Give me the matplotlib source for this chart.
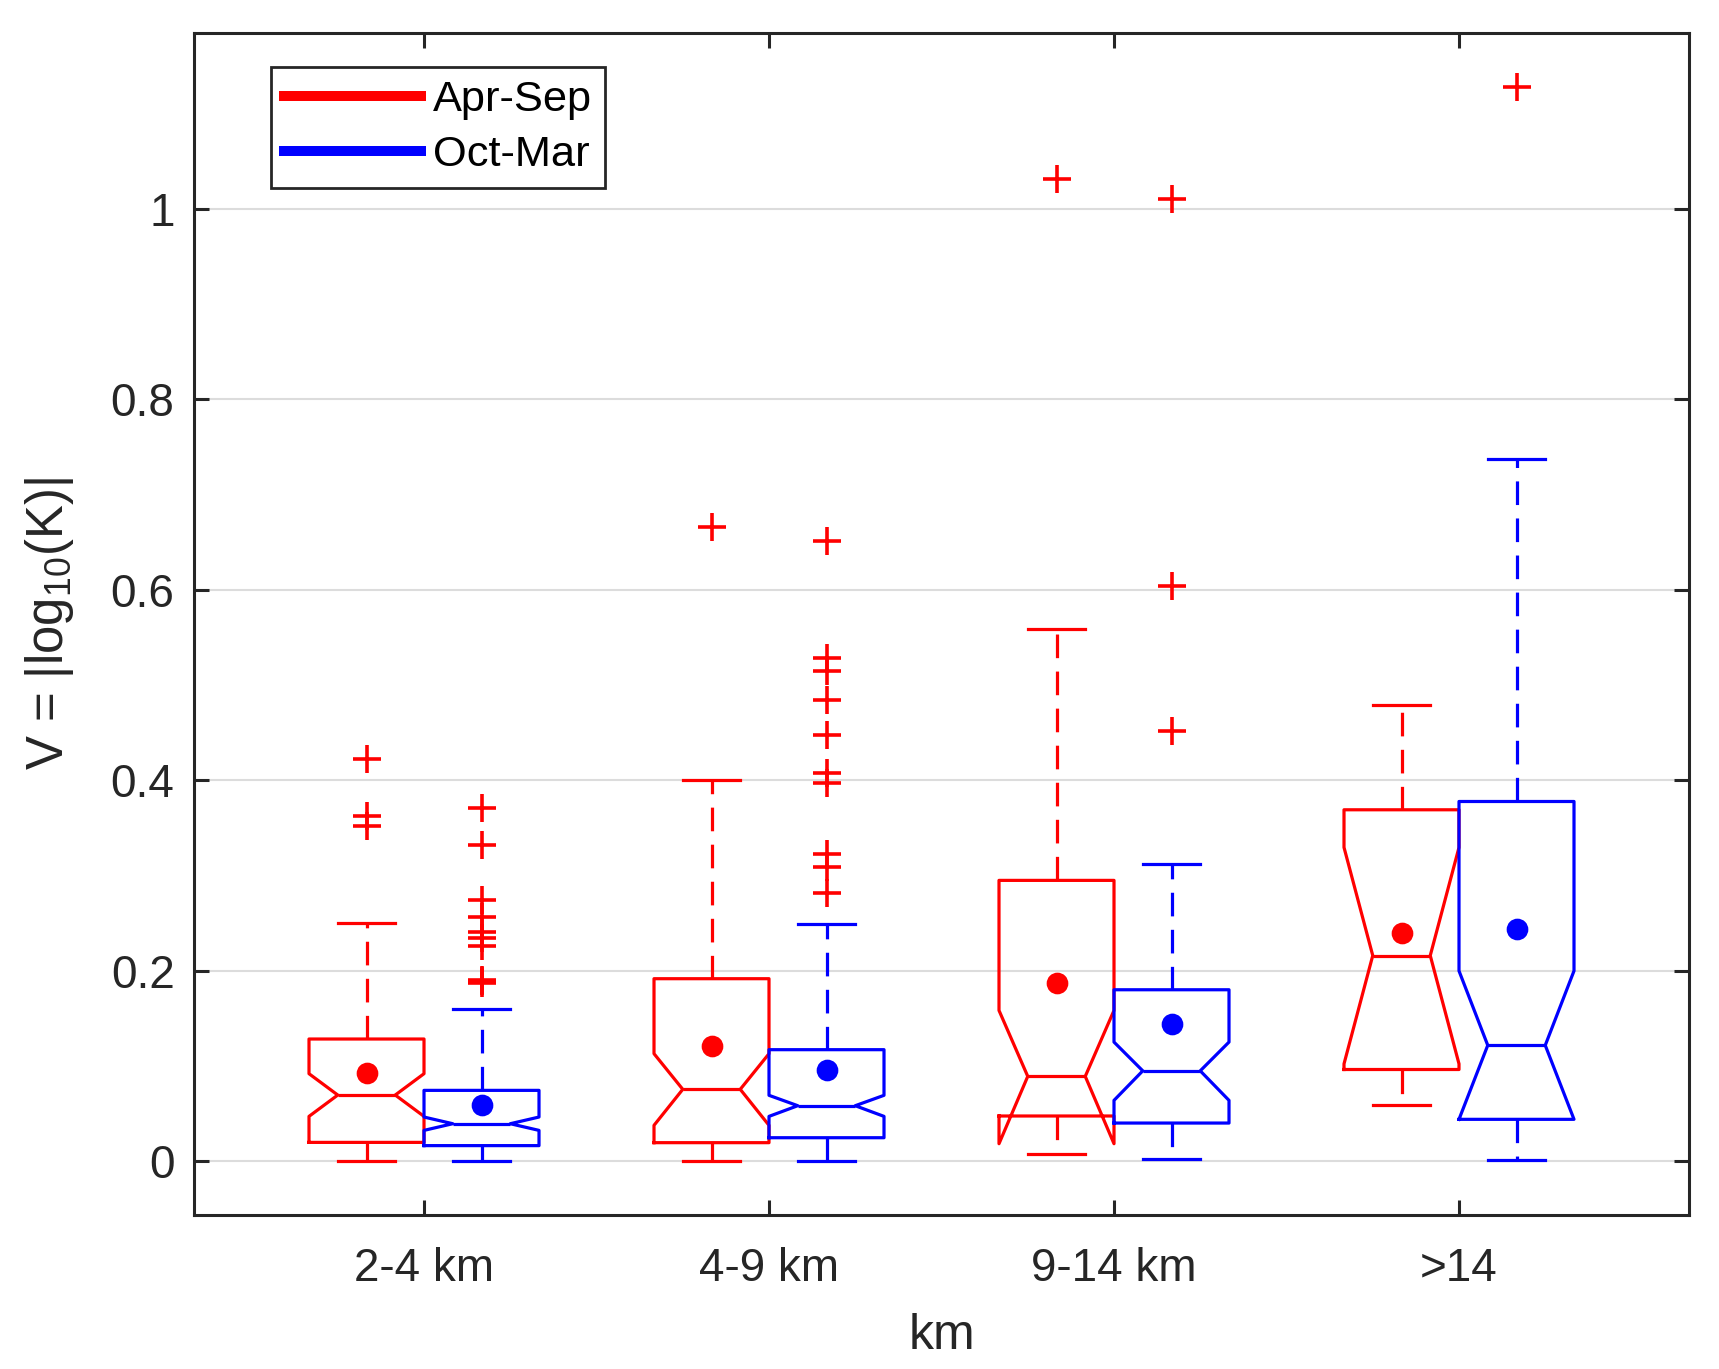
import matplotlib
matplotlib.use('Agg')
import matplotlib.pyplot as plt
from matplotlib.lines import Line2D

plt.rcParams['font.family'] = ['Liberation Sans', 'DejaVu Sans']
plt.rcParams['mathtext.fontset'] = 'custom'
plt.rcParams['mathtext.rm'] = 'Liberation Sans'
plt.rcParams['mathtext.it'] = 'Liberation Sans:italic'

# ---------------- data ----------------
categories = ['2-4 km', '4-9 km', '9-14 km', '>14']
seasons = ['Apr-Sep', 'Oct-Mar']
season_colors = ['#ff0000', '#0000ff']
outlier_color = '#ff0000'

yticks = [0, 0.2, 0.4, 0.6, 0.8, 1.0]
ytick_labels = ['0', '0.2', '0.4', '0.6', '0.8', '1']

# Apr-Sep (red)
apr_whislo = [0.0, 0.0007, 0.0081, 0.0588]
apr_q1 = [0.0199, 0.0196, 0.0476, 0.0964]
apr_cilo = [0.0472, 0.0378, 0.0185, 0.1023]
apr_med = [0.0696, 0.0756, 0.0892, 0.2160]
apr_cihi = [0.0920, 0.1130, 0.1584, 0.3295]
apr_q3 = [0.1284, 0.1917, 0.2949, 0.3690]
apr_whishi = [0.2505, 0.4005, 0.5586, 0.4790]
apr_mean = [0.0927, 0.1207, 0.1871, 0.2396]
apr_fliers = [[0.4222, 0.3627, 0.3515],
              [0.6663],
              [1.0309],
              []]

# Oct-Mar (blue)
oct_whislo = [0.0, 0.0, 0.0028, 0.0010]
oct_q1 = [0.0165, 0.0248, 0.0402, 0.0441]
oct_cilo = [0.0325, 0.0472, 0.0640, 0.0441]
oct_med = [0.0395, 0.0584, 0.0950, 0.1218]
oct_cihi = [0.0465, 0.0693, 0.1252, 0.1999]
oct_q3 = [0.0745, 0.1172, 0.1801, 0.3777]
oct_whishi = [0.1602, 0.2488, 0.3124, 0.7370]
oct_mean = [0.0588, 0.0955, 0.1446, 0.2440]
oct_fliers = [[0.3711, 0.3323, 0.2746, 0.2568, 0.2406, 0.2340, 0.2263, 0.1905, 0.1890, 0.1875],
              [0.6510, 0.5280, 0.5144, 0.4840, 0.4476, 0.4073, 0.3968, 0.3223, 0.3087, 0.2814],
              [1.0099, 0.6037, 0.4516],
              [1.1281]]


def build_stats(whislo, q1, cilo, med, cihi, q3, whishi, mean, fliers):
    out = []
    for i in range(len(med)):
        out.append(dict(whislo=whislo[i], q1=q1[i], cilo=cilo[i], med=med[i],
                        cihi=cihi[i], q3=q3[i], whishi=whishi[i], mean=mean[i],
                        fliers=fliers[i]))
    return out


season_stats = [
    build_stats(apr_whislo, apr_q1, apr_cilo, apr_med, apr_cihi, apr_q3, apr_whishi, apr_mean, apr_fliers),
    build_stats(oct_whislo, oct_q1, oct_cilo, oct_med, oct_cihi, oct_q3, oct_whishi, oct_mean, oct_fliers),
]

# ---------------- figure ----------------
fig = plt.figure(figsize=(17.19 / 2, 13.69 / 2), dpi=200)
ax = fig.add_axes([0.11286, 0.11271, 0.86969, 0.86297])

box_w = 1 / 3
offsets = [-1 / 6, 1 / 6]
base = list(range(1, len(categories) + 1))
lw = 1.15
dash = (0, (7.4, 4.2))

for k, (stats, c) in enumerate(zip(season_stats, season_colors)):
    ax.bxp(stats, positions=[p + offsets[k] for p in base], widths=box_w,
           shownotches=True, showmeans=True, manage_ticks=False,
           boxprops=dict(color=c, lw=lw),
           whiskerprops=dict(color=c, lw=lw, linestyle=dash),
           capprops=dict(color=c, lw=lw),
           medianprops=dict(color=c, lw=lw),
           meanprops=dict(marker='o', markerfacecolor=c, markeredgecolor=c,
                          markersize=6.8, linestyle='none'),
           flierprops=dict(marker='+', markeredgecolor=outlier_color,
                           markersize=10, markeredgewidth=1.3, linestyle='none'))

ax.set_xlim(1 / 3, 4 + 2 / 3)
ax.set_ylim(-0.056, 1.184)
ax.set_xticks(base)
ax.set_xticklabels(categories)
ax.set_yticks(yticks)
ax.set_yticklabels(ytick_labels)

dark = '#262626'
ax.tick_params(direction='in', length=5.5, width=1.1, colors=dark,
               top=True, right=True, labelsize=16.5)
ax.tick_params(axis='y', pad=7)
ax.tick_params(axis='x', pad=11.5)
for s in ax.spines.values():
    s.set_linewidth(1.1)
    s.set_color(dark)
ax.yaxis.grid(True, color='#dcdcdc', lw=0.75)
ax.set_axisbelow(True)

ax.set_xlabel('km', fontsize=18, color=dark, labelpad=8)
ax.set_ylabel(r'V = |log$_{\mathregular{10}}$(K)|', fontsize=18.3, color=dark, labelpad=12.5)

handles = [Line2D([], [], color=c, lw=3.6) for c in season_colors]
leg = ax.legend(handles, seasons, loc='upper left', bbox_to_anchor=(0.0515, 0.9712),
                borderaxespad=0, fancybox=False, edgecolor=dark, framealpha=1,
                fontsize=15.6, handlelength=3.16, handletextpad=0.28,
                borderpad=0.3, labelspacing=0.35)
leg.get_frame().set_linewidth(1.0)
for t in leg.get_texts():
    t.set_color('#000000')

fig.savefig('out.png', dpi=200)
